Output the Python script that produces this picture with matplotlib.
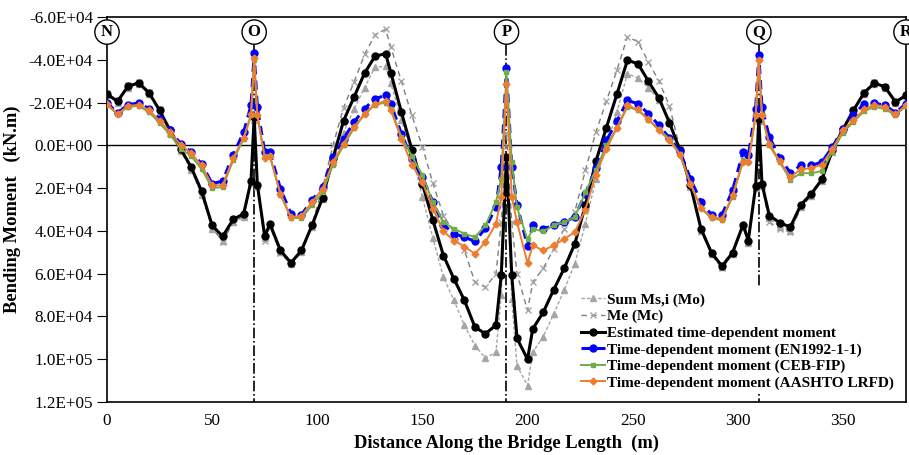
import numpy as np
import matplotlib
matplotlib.use("Agg")
import matplotlib.pyplot as plt
import matplotlib.transforms as mtransforms

plt.rcParams['font.family'] = ['Liberation Serif', 'DejaVu Serif']

# distance along the bridge (m)
x = [0, 5, 10, 15, 20, 25, 30, 35, 40, 45, 50, 55, 60, 65, 68.5, 70, 71.5,
     75, 77.5, 82.5, 87.5, 92.5, 97.5, 102.5, 107.5, 112.5, 117.5, 122.5, 127.5, 132.5, 135,
     140, 145, 150, 155, 160, 165, 170, 175, 180, 185, 187.5, 190, 192.5,
     195, 200, 202.5, 207.5, 212.5, 217.5, 222.5, 227.5, 232.5, 237.5, 242.5, 247.5, 252.5,
     257.5, 262.5, 267.5, 272.5, 277.5, 282.5, 287.5, 292.5, 297.5, 302.5, 305, 308.5, 310, 311.5,
     315, 320, 325, 330, 335, 340, 345, 350, 355, 360, 365, 370, 375, 380]

# bending moments, in 1000 kN.m
sum_ms = [-23.5, -20.0, -27.0, -28.8, -24.0, -15.8, -6.0, 2.5, 11.5, 23.0, 39.0, 44.5, 36.0, 33.5, 17.5, -12.0, 19.0,
          43.5, 37.5, 50.0, 55.5, 50.0, 38.0, 25.0, 8.0, -6.0, -17.0, -27.0, -36.6, -37.0, -29.0,
          -12.0, 4.0, 24.2, 43.4, 61.6, 72.5, 84.2, 93.6, 99.5, 96.7, 70.0, 8.0, 72.0,
          103.0, 112.3, 96.7, 89.4, 78.8, 67.4, 55.4, 36.6, 15.9, 0.0, -15.6, -33.5, -31.5,
          -27.0, -21.0, -12.0, 2.0, 19.5, 40.0, 51.0, 57.0, 51.0, 38.0, 45.5, 20.0, -11.5, 19.0,
          34.0, 38.0, 40.0, 29.0, 23.5, 16.5, 3.0, -7.0, -16.0, -24.0, -28.8, -27.0, -20.0, -23.0]

me = [-24.5, -21.0, -28.0, -29.8, -25.0, -16.8, -7.0, 2.0, 11.0, 22.5, 38.5, 45.0, 36.0, 33.0, 17.0, -14.0, 19.5,
      44.5, 38.0, 50.5, 55.5, 49.5, 37.0, 20.0, 0.0, -17.6, -29.6, -42.5, -51.8, -54.2, -46.0,
      -30.0, -14.0, 0.6, 17.7, 32.8, 40.6, 49.1, 64.0, 66.3, 60.0, 36.0, -6.0, 36.0,
      60.0, 77.2, 64.0, 57.5, 48.3, 39.0, 31.0, 11.7, -6.2, -20.6, -35.1, -50.8, -48.5,
      -39.0, -30.0, -18.5, 1.6, 19.0, 40.0, 51.0, 57.5, 51.0, 38.0, 45.5, 20.0, -13.0, 19.0,
      35.9, 39.0, 40.6, 29.0, 23.5, 16.5, 3.0, -7.5, -16.5, -25.0, -29.5, -27.5, -20.5, -23.5]

estimated = [-24.0, -20.6, -27.6, -29.2, -24.6, -16.4, -7.0, 1.6, 10.1, 21.4, 37.4, 42.6, 34.6, 32.0, 16.7, -13.3, 18.3,
             42.4, 36.7, 49.1, 54.9, 49.1, 37.4, 24.6, 5.9, -11.5, -22.6, -33.8, -41.7, -42.9, -34.0,
             -15.6, 2.0, 18.0, 35.0, 51.5, 62.4, 72.5, 85.0, 88.1, 84.0, 60.8, 5.5, 60.8,
             90.2, 100.0, 85.8, 78.0, 67.4, 57.4, 46.0, 28.0, 7.5, -8.3, -23.9, -39.8, -38.2,
             -30.0, -22.1, -10.6, 2.3, 18.7, 39.0, 50.2, 56.5, 50.2, 37.1, 44.5, 19.0, -12.5, 17.9,
             32.8, 36.2, 38.2, 27.8, 22.6, 15.9, 2.3, -7.5, -16.4, -24.5, -29.2, -27.3, -20.3, -23.4]

en1992 = [-20.0, -15.1, -19.0, -19.8, -17.2, -12.2, -7.0, -0.8, 3.1, 8.6, 17.9, 16.7, 4.4, -6.2, -18.7, -43.0, -17.9,
          3.1, 3.1, 20.3, 32.0, 32.4, 25.7, 19.5, 5.5, -3.1, -10.9, -17.2, -21.8, -23.4, -19.5,
          -5.5, 6.2, 14.8, 26.5, 37.1, 41.3, 42.9, 44.9, 38.7, 28.8, 10.1, -36.3, 10.1,
          27.8, 47.0, 37.4, 39.0, 37.4, 35.9, 33.5, 22.6, 10.6, -2.3, -11.2, -21.0, -19.5,
          -14.8, -9.4, -3.4, 2.8, 15.6, 26.5, 32.4, 32.4, 21.0, 3.1, 4.7, -17.2, -42.1, -17.9,
          -3.9, 5.9, 12.8, 9.4, 9.4, 7.8, 0.8, -7.8, -14.0, -19.5, -19.8, -18.7, -15.3, -19.5]

ceb_fip = [-19.0, -14.5, -18.0, -18.5, -15.5, -10.5, -5.0, 1.5, 5.0, 11.0, 20.0, 19.5, 7.0, -3.0, -14.0, -40.0, -14.0,
           5.0, 5.0, 23.0, 34.0, 34.0, 28.0, 22.0, 9.0, 0.0, -8.0, -14.5, -19.0, -20.0, -17.0,
           -4.0, 5.0, 14.0, 26.5, 35.9, 39.0, 41.3, 42.9, 37.4, 26.5, 15.6, -34.3, 7.8,
           29.0, 44.0, 39.0, 40.2, 37.4, 35.9, 33.5, 22.0, 11.5, 0.0, -8.0, -18.0, -16.5,
           -12.0, -7.5, -3.0, 4.0, 18.0, 29.5, 34.0, 35.0, 24.0, 7.0, 8.0, -14.0, -40.0, -14.0,
           0.0, 8.0, 16.0, 13.0, 13.0, 12.0, 3.0, -6.0, -11.0, -16.0, -18.0, -17.0, -14.0, -18.5]

aashto = [-19.5, -14.6, -18.5, -18.9, -16.5, -11.5, -6.2, -0.3, 3.6, 9.4, 18.7, 18.7, 5.9, -3.5, -14.5, -41.0, -14.0,
          5.9, 5.0, 22.6, 33.6, 33.0, 26.5, 20.3, 7.8, -0.8, -8.6, -14.8, -19.5, -20.6, -16.4,
          -3.1, 9.0, 17.2, 29.6, 40.2, 44.5, 47.3, 50.7, 45.2, 36.6, 24.2, -28.9, 24.2,
          35.9, 55.0, 46.8, 49.1, 46.8, 43.7, 40.6, 30.0, 13.7, 1.6, -8.1, -18.7, -16.8,
          -12.2, -7.0, -2.3, 4.4, 17.9, 29.3, 33.5, 34.3, 23.4, 7.8, 7.8, -14.0, -40.0, -14.0,
          -0.8, 7.5, 14.8, 11.2, 10.6, 9.0, 1.6, -7.0, -11.7, -16.8, -19.0, -18.0, -14.5, -19.0]

piers = ['N', 'O', 'P', 'Q', 'R']
pier_x = [0, 70, 190, 310, 380]

fig = plt.figure(figsize=(9.09, 4.55), dpi=100)
ax = fig.add_axes([0.1177, 0.1165, 0.879, 0.846])

k = 1000.0
ax.axhline(0, color='black', lw=1.0, zorder=1)

# dash-dot pier lines
for px in pier_x[1:4]:
    ax.plot([px, px], [-47000, 120000], color='black', ls='-.', lw=1.2, zorder=1)

ax.plot(x, np.array(sum_ms) * k, color='#a5a5a5', ls=(0, (2.5, 1.5)), lw=1.0,
        marker='^', ms=4, mfc='#a5a5a5', mec='#a5a5a5', label='Sum Ms,i (Mo)', zorder=2)
ax.plot(x, np.array(me) * k, color='#7f7f7f', ls=(0, (4, 3)), lw=1.0,
        marker='x', ms=4, mec='#a5a5a5', label='Me (Mc)', zorder=2)
ax.plot(x, np.array(estimated) * k, color='black', lw=2.2,
        marker='o', ms=5, label='Estimated time-dependent moment', zorder=3)
ax.plot(x, np.array(en1992) * k, color='#0000ff', ls=(0, (3, 2)), lw=2.2,
        marker='o', ms=5, label='Time-dependent moment (EN1992-1-1)', zorder=4)
ax.plot(x, np.array(ceb_fip) * k, color='#70ad47', lw=1.4,
        marker='s', ms=3.5, label='Time-dependent moment (CEB-FIP)', zorder=5)
ax.plot(x, np.array(aashto) * k, color='#ed7d31', lw=1.4,
        marker='D', ms=3.5, label='Time-dependent moment (AASHTO LRFD)', zorder=6)

ax.set_xlim(0, 380)
ax.set_ylim(120000, -60000)
ax.set_xticks(np.arange(0, 351, 50))
yt = np.arange(-60000, 120001, 20000)
ax.set_yticks(yt)
ax.set_yticklabels(['%.1E' % v for v in yt])
ax.tick_params(axis='y', direction='out', length=7, pad=3, labelsize=12.3)
ax.tick_params(axis='x', length=0, labelsize=12.3, pad=8)
for s in ax.spines.values():
    s.set_linewidth(1.2)

ax.set_xlabel('Distance Along the Bridge Length  (m)', fontsize=13.3, fontweight='bold', labelpad=4)
ax.set_ylabel('Bending Moment   (kN.m)', fontsize=13.3, fontweight='bold', labelpad=6)

# pier labels in circles
trans = mtransforms.blended_transform_factory(ax.transData, ax.transAxes)
for name, px in zip(piers, pier_x):
    ax.text(px, 0.961, name, transform=trans, ha='center', va='center',
            fontsize=12, fontweight='bold', zorder=10, clip_on=False,
            bbox=dict(boxstyle='circle,pad=0.25', fc='white', ec='black', lw=1.0))

leg = ax.legend(loc='lower right', bbox_to_anchor=(1.0, 0.0), frameon=True,
                fancybox=False, edgecolor='none', facecolor='white', framealpha=1,
                prop={'family': 'Liberation Serif', 'weight': 'bold', 'size': 11},
                handlelength=1.6, handletextpad=0.1, labelspacing=0.18, borderpad=0.3)
leg.set_zorder(20)

fig.savefig('out.png', dpi=100)
